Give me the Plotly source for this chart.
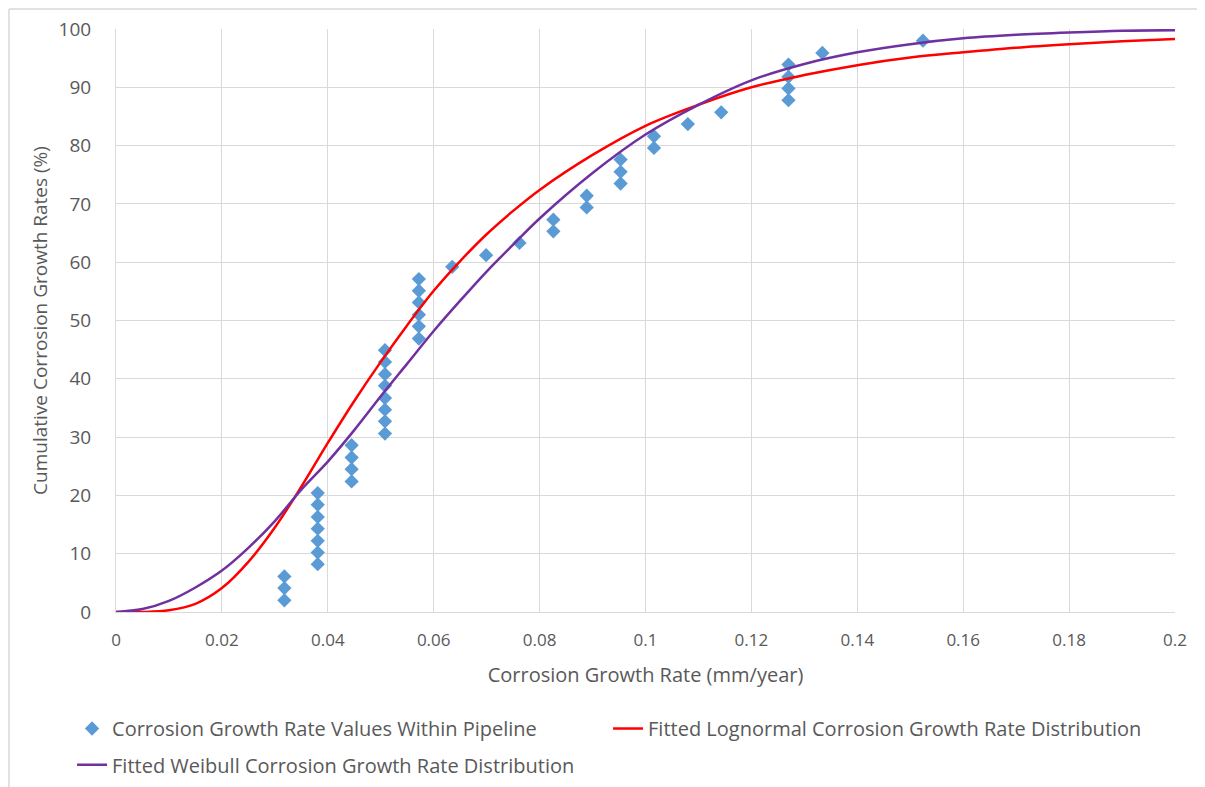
import plotly.graph_objects as go

# ---- data ----
obs_rate = [0.0318, 0.0318, 0.0318,
            0.0381, 0.0381, 0.0381, 0.0381, 0.0381, 0.0381, 0.0381,
            0.0445, 0.0445, 0.0445, 0.0445,
            0.0508, 0.0508, 0.0508, 0.0508, 0.0508, 0.0508, 0.0508, 0.0508,
            0.0572, 0.0572, 0.0572, 0.0572, 0.0572, 0.0572,
            0.0635, 0.0699, 0.0762,
            0.0826, 0.0826, 0.0889, 0.0889,
            0.0953, 0.0953, 0.0953, 0.1016, 0.1016,
            0.1080, 0.1143,
            0.1270, 0.1270, 0.1270, 0.1270,
            0.1334, 0.1524]
obs_cum = [2.0, 4.1, 6.1,
           8.2, 10.2, 12.2, 14.3, 16.3, 18.4, 20.4,
           22.4, 24.5, 26.5, 28.6,
           30.6, 32.7, 34.7, 36.7, 38.8, 40.8, 42.9, 44.9,
           46.9, 49.0, 51.0, 53.1, 55.1, 57.1,
           59.2, 61.2, 63.3,
           65.3, 67.3, 69.4, 71.4,
           73.5, 75.5, 77.6, 79.6, 81.6,
           83.7, 85.7,
           87.8, 89.8, 91.8, 93.9,
           95.9, 98.0]

curve_x = [0, 0.005, 0.01, 0.015, 0.02, 0.025, 0.03, 0.035, 0.04, 0.045,
           0.05, 0.055, 0.06, 0.065, 0.07, 0.075, 0.08, 0.09, 0.1, 0.11,
           0.12, 0.13, 0.14, 0.15, 0.16, 0.17, 0.18, 0.19, 0.2]
lognormal_cum = [0, 0.0, 0.3, 1.4, 4.1, 8.6, 14.5, 21.5, 29.0, 36.2,
                 42.9, 49.2, 55.1, 60.2, 64.8, 68.8, 72.4, 78.4, 83.4, 87.0,
                 90.0, 92.1, 93.8, 95.1, 96.0, 96.8, 97.4, 97.9, 98.3]
weibull_cum = [0, 0.5, 1.9, 4.2, 7.1, 11.0, 15.6, 21.0, 25.8, 31.2,
               37.0, 42.6, 48.2, 53.4, 58.4, 63.0, 67.5, 75.3, 81.9, 87.0,
               91.2, 94.0, 96.0, 97.4, 98.4, 99.0, 99.4, 99.7, 99.8]

x_ticks = [0, 0.02, 0.04, 0.06, 0.08, 0.1, 0.12, 0.14, 0.16, 0.18, 0.2]
x_tick_text = ["0", "0.02", "0.04", "0.06", "0.08", "0.1", "0.12", "0.14", "0.16", "0.18", "0.2"]
y_ticks = [0, 10, 20, 30, 40, 50, 60, 70, 80, 90, 100]

FONT = "Open Sans, Noto Sans, sans-serif"
GRAY = "#595959"

fig = go.Figure()
fig.add_trace(go.Scatter(
    x=obs_rate, y=obs_cum, mode="markers",
    name="Corrosion Growth Rate Values Within Pipeline",
    marker=dict(symbol="diamond", size=11, color="#5B9BD5"),
    legend="legend"))
fig.add_trace(go.Scatter(
    x=curve_x, y=lognormal_cum, mode="lines",
    name="Fitted Lognormal Corrosion Growth Rate Distribution",
    line=dict(color="#FF0000", width=2.5, shape="spline", smoothing=1.0),
    legend="legend"))
fig.add_trace(go.Scatter(
    x=curve_x, y=weibull_cum, mode="lines",
    name="Fitted Weibull Corrosion Growth Rate Distribution",
    line=dict(color="#7030A0", width=2.5, shape="spline", smoothing=1.0),
    legend="legend2"))

fig.update_layout(
    width=1197, height=779,
    margin=dict(l=108, r=30, t=21, b=175, autoexpand=False),
    paper_bgcolor="white", plot_bgcolor="white",
    font=dict(family=FONT, size=20, color=GRAY),
    xaxis=dict(range=[0, 0.2], tickvals=x_ticks, ticktext=x_tick_text,
               showgrid=True, gridcolor="#D9D9D9", gridwidth=1,
               zeroline=False, showline=True, linecolor="#D9D9D9",
               ticks="", ticklabelstandoff=13,
               tickfont=dict(size=17, color=GRAY),
               title=dict(text="Corrosion Growth Rate (mm/year)",
                          font=dict(size=20, color=GRAY), standoff=17)),
    yaxis=dict(range=[0, 100], tickvals=y_ticks,
               showgrid=True, gridcolor="#D9D9D9", gridwidth=1,
               zeroline=False, showline=True, linecolor="#D9D9D9",
               ticks="", ticklabelstandoff=20,
               tickfont=dict(size=19, color=GRAY),
               title=dict(text="Cumulative Corrosion Growth Rates (%)",
                          font=dict(size=19, color=GRAY), standoff=5)),
    legend=dict(orientation="h", x=-0.0415, xanchor="left",
                y=-0.1664, yanchor="top", entrywidth=491,
                entrywidthmode="pixels",
                font=dict(size=20, color=GRAY), bgcolor="rgba(0,0,0,0)"),
    legend2=dict(orientation="h", x=-0.0415, xanchor="left",
                 y=-0.2286, yanchor="top",
                 font=dict(size=20, color=GRAY), bgcolor="rgba(0,0,0,0)"),
    showlegend=True,
)

# light chart-area frame (left and top edges)
fig.add_shape(type="line", xref="paper", yref="paper",
              x0=-0.1011, x1=-0.1011, y0=-0.3, y1=1.0343,
              line=dict(color="#D9D9D9", width=1.5))
fig.add_shape(type="line", xref="paper", yref="paper",
              x0=-0.1011, x1=1.03, y0=1.0343, y1=1.0343,
              line=dict(color="#D9D9D9", width=1.5))

fig.write_html("out.html")
